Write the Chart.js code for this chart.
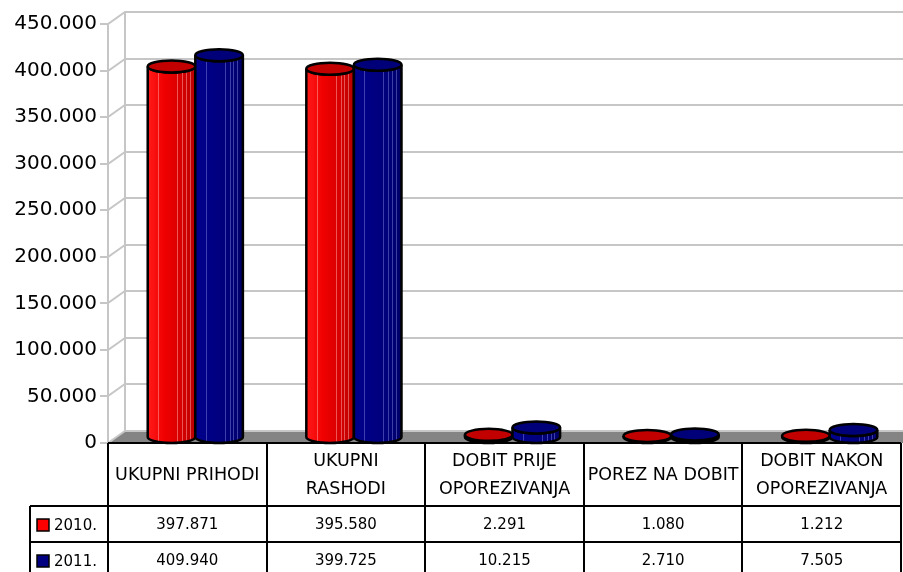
<!DOCTYPE html>
<html>
<head>
<meta charset="utf-8">
<script src="https://cdn.jsdelivr.net/npm/chart.js@4/dist/chart.umd.min.js"></script>
<style>
html,body{margin:0;padding:0;background:#fff;}
#wrap{width:903px;height:572px;position:relative;}
</style>
</head>
<body>
<div id="wrap"><canvas id="c" width="903" height="572"></canvas></div>
<script>
// ---- data ----
const categories = [['UKUPNI PRIHODI'], ['UKUPNI', 'RASHODI'], ['DOBIT PRIJE', 'OPOREZIVANJA'], ['POREZ NA DOBIT'], ['DOBIT NAKON', 'OPOREZIVANJA']];
const seriesNames = ['2010.', '2011.'];
const values2010 = [397871, 395580, 2291, 1080, 1212];
const values2011 = [409940, 399725, 10215, 2710, 7505];
const yTickValues = [0, 50000, 100000, 150000, 200000, 250000, 300000, 350000, 400000, 450000];

const FONT = '"DejaVu Sans", sans-serif';
const DX = 8, DY = -6;      // bar depth offset (mid plane)
const WX = 17, WY = -12;    // back wall offset

function fmt(v) {
  return String(v).replace(/\B(?=(\d{3})+(?!\d))/g, '.');
}

const styles = [
  {stops: ['#ff1a1a', '#f00000', '#d80000', '#b80000'], top: '#c20000', streak: 'rgba(255,170,170,0.5)'},
  {stops: ['#00008c', '#000084', '#00007a', '#000068'], top: '#000078', streak: 'rgba(140,140,230,0.45)'}
];

function bodyPath(ctx, cx, topY, baseY, rx, ry) {
  ctx.beginPath();
  ctx.moveTo(cx - rx, topY);
  ctx.lineTo(cx - rx, baseY);
  ctx.ellipse(cx, baseY, rx, ry, 0, Math.PI, 0, true);
  ctx.lineTo(cx + rx, topY);
  ctx.ellipse(cx, topY, rx, ry, 0, 0, Math.PI, false);
  ctx.closePath();
}

function cylinder(ctx, cx, topY, baseY, w, st) {
  const rx = w / 2, ry = 6;
  ctx.save();
  bodyPath(ctx, cx, topY, baseY, rx, ry);
  const g = ctx.createLinearGradient(cx - rx, 0, cx + rx, 0);
  g.addColorStop(0, st.stops[0]);
  g.addColorStop(0.35, st.stops[1]);
  g.addColorStop(0.7, st.stops[2]);
  g.addColorStop(1, st.stops[3]);
  ctx.fillStyle = g;
  ctx.fill();
  ctx.save();
  ctx.clip();
  ctx.strokeStyle = st.streak;
  ctx.lineWidth = 1;
  [0.22, 0.62, 0.72, 0.8, 0.88].forEach(f => {
    const x = Math.round(cx - rx + f * w) + 0.5;
    ctx.beginPath(); ctx.moveTo(x, topY - ry); ctx.lineTo(x, baseY + ry); ctx.stroke();
  });
  ctx.restore();
  bodyPath(ctx, cx, topY, baseY, rx, ry);
  ctx.lineWidth = 2.5;
  ctx.strokeStyle = '#000';
  ctx.stroke();
  ctx.beginPath();
  ctx.ellipse(cx, topY, rx, ry, 0, 0, Math.PI * 2);
  ctx.fillStyle = st.top;
  ctx.fill();
  ctx.stroke();
  ctx.restore();
}

const threeD = {
  id: 'threeD',
  beforeDatasetsDraw(chart) {
    const ctx = chart.ctx, ca = chart.chartArea, y = chart.scales.y;
    const L = ca.left, R = 903, B = ca.bottom;
    ctx.save();
    // floor
    ctx.beginPath();
    ctx.moveTo(L, B); ctx.lineTo(L + WX, B + WY); ctx.lineTo(R, B + WY); ctx.lineTo(R, B);
    ctx.closePath();
    ctx.fillStyle = '#848484';
    ctx.fill();
    // grid
    ctx.strokeStyle = '#c6c6c6';
    ctx.lineWidth = 2;
    yTickValues.forEach(v => {
      const py = Math.round(y.getPixelForValue(v));
      ctx.beginPath();
      ctx.moveTo(L - 8, py);
      ctx.lineTo(L, py);
      ctx.lineTo(L + WX, py + WY);
      ctx.lineTo(R, py + WY);
      ctx.stroke();
    });
    const topPy = Math.round(y.getPixelForValue(yTickValues[yTickValues.length - 1]));
    ctx.beginPath();
    ctx.moveTo(L, topPy); ctx.lineTo(L, B);
    ctx.moveTo(L + WX, topPy + WY); ctx.lineTo(L + WX, B + WY);
    ctx.stroke();
    ctx.restore();
  },
  afterDatasetsDraw(chart) {
    const ctx = chart.ctx;
    const n = chart.data.labels.length;
    for (let i = 0; i < n; i++) {
      for (let d = 0; d < chart.data.datasets.length; d++) {
        const el = chart.getDatasetMeta(d).data[i];
        const w = el.width;
        cylinder(ctx, el.x + DX, el.y + DY, el.base + DY, w, styles[d]);
      }
    }
  },
  afterDraw(chart) {
    const ctx = chart.ctx, ca = chart.chartArea;
    const L = ca.left, R = ca.right;
    const n = categories.length;
    const cw = (R - L) / n;
    const y0 = ca.bottom, y1 = 506, y2 = 542, y3 = 578;
    const legL = 30;
    ctx.save();
    ctx.strokeStyle = '#000';
    ctx.lineWidth = 2;
    ctx.beginPath();
    ctx.moveTo(L, y0); ctx.lineTo(R, y0);
    ctx.moveTo(legL, y1); ctx.lineTo(R, y1);
    ctx.moveTo(legL, y2); ctx.lineTo(R, y2);
    ctx.moveTo(legL, y1); ctx.lineTo(legL, y3);
    for (let i = 0; i <= n; i++) {
      const x = Math.round(L + i * cw);
      ctx.moveTo(x, y0); ctx.lineTo(x, y3);
    }
    ctx.stroke();
    // header text
    ctx.fillStyle = '#000';
    ctx.textAlign = 'center';
    ctx.textBaseline = 'middle';
    ctx.font = '17.5px ' + FONT;
    categories.forEach((lines, i) => {
      const cx = L + (i + 0.5) * cw;
      if (lines.length === 1) {
        ctx.fillText(lines[0], cx, 475);
      } else {
        ctx.fillText(lines[0], cx, 461);
        ctx.fillText(lines[1], cx, 489);
      }
    });
    // values
    ctx.font = '15px ' + FONT;
    const rows = [values2010, values2011];
    const rowY = [525, 561];
    rows.forEach((vals, r) => {
      vals.forEach((v, i) => {
        ctx.fillText(fmt(v), L + (i + 0.5) * cw, rowY[r]);
      });
      // legend key
      ctx.fillStyle = r === 0 ? '#ff0000' : '#000080';
      ctx.fillRect(37, rowY[r] - 6, 12, 12);
      ctx.lineWidth = 1.5;
      ctx.strokeRect(37, rowY[r] - 6, 12, 12);
      ctx.fillStyle = '#000';
      ctx.textAlign = 'left';
      ctx.fillText(seriesNames[r], 54, rowY[r] + 1);
      ctx.textAlign = 'center';
    });
    ctx.restore();
  }
};

new Chart(document.getElementById('c'), {
  type: 'bar',
  data: {
    labels: categories,
    datasets: [
      {label: seriesNames[0], data: values2010, backgroundColor: 'rgba(0,0,0,0)', borderWidth: 0},
      {label: seriesNames[1], data: values2011, backgroundColor: 'rgba(0,0,0,0)', borderWidth: 0}
    ]
  },
  options: {
    responsive: false,
    animation: false,
    events: [],
    layout: {padding: {left: 0, top: 24, right: 2, bottom: 129}},
    plugins: {legend: {display: false}, tooltip: {enabled: false}},
    datasets: {bar: {categoryPercentage: 0.6, barPercentage: 1.0}},
    scales: {
      x: {display: false, grid: {display: false}},
      y: {
        min: 0, max: 450000,
        afterFit(s) { s.width = 108; },
        afterBuildTicks(s) { s.ticks = yTickValues.map(v => ({value: v})); },
        grid: {display: false, drawTicks: false},
        border: {display: false},
        ticks: {
          padding: 11,
          color: '#000',
          font: {family: FONT, size: 20},
          callback: v => fmt(v)
        }
      }
    }
  },
  plugins: [threeD]
});
</script>
</body>
</html>
